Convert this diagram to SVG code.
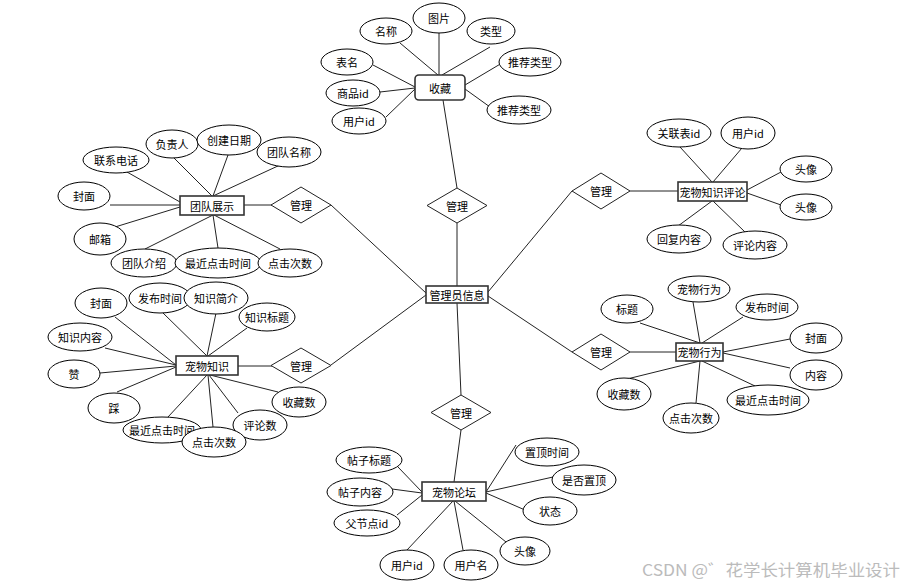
<svg xmlns="http://www.w3.org/2000/svg" width="906" height="586" viewBox="0 0 906 586">
<style>
  .e { fill: #fff; stroke: #000; stroke-width: 1; }
  .b { fill: #fff; stroke: #333; stroke-width: 1.6; }
  .d { fill: #fff; stroke: #222; stroke-width: 1; }
  .l { stroke: #222; stroke-width: 1; fill: none; }
  text { font-family: "Noto Sans CJK SC", "Liberation Sans", sans-serif; font-size: 11px; fill: #000; text-anchor: middle; dominant-baseline: central; }
  .wm { font-size: 16px; fill: #bbb; text-anchor: start; dominant-baseline: alphabetic; }
</style>
<rect width="906" height="586" fill="#fff"/>
<g id="connectors">
  <!-- 收藏 -->
  <line class="l" x1="400" y1="43" x2="438" y2="75"/>
  <line class="l" x1="439" y1="33" x2="439" y2="75"/>
  <line class="l" x1="490" y1="47" x2="442" y2="75"/>
  <line class="l" x1="502" y1="63" x2="465" y2="85"/>
  <line class="l" x1="490" y1="107" x2="465" y2="89"/>
  <line class="l" x1="373" y1="65" x2="415" y2="87"/>
  <line class="l" x1="380" y1="92" x2="415" y2="88"/>
  <line class="l" x1="386" y1="117" x2="415" y2="89"/>
  <line class="l" x1="443" y1="100" x2="457" y2="188"/>
  <!-- 管理员信息 -->
  <line class="l" x1="457" y1="223" x2="457" y2="286"/>
  <line class="l" x1="331" y1="205" x2="426" y2="293"/>
  <line class="l" x1="331" y1="365" x2="426" y2="295"/>
  <line class="l" x1="457" y1="303" x2="461" y2="395"/>
  <line class="l" x1="488" y1="292" x2="572" y2="191"/>
  <line class="l" x1="488" y1="296" x2="572" y2="352"/>
  <!-- 宠物知识评论 -->
  <line class="l" x1="630" y1="191" x2="678" y2="191"/>
  <line class="l" x1="680" y1="147" x2="712" y2="182"/>
  <line class="l" x1="742" y1="148" x2="713" y2="182"/>
  <line class="l" x1="781" y1="172" x2="747" y2="190"/>
  <line class="l" x1="781" y1="205" x2="747" y2="193"/>
  <line class="l" x1="678" y1="226" x2="712" y2="201"/>
  <line class="l" x1="745" y1="232" x2="713" y2="201"/>
  <!-- 宠物行为 -->
  <line class="l" x1="630" y1="352" x2="676" y2="352"/>
  <line class="l" x1="640" y1="323" x2="700" y2="343"/>
  <line class="l" x1="693" y1="302" x2="700" y2="343"/>
  <line class="l" x1="743" y1="317" x2="702" y2="343"/>
  <line class="l" x1="790" y1="339" x2="723" y2="352"/>
  <line class="l" x1="790" y1="368" x2="723" y2="353"/>
  <line class="l" x1="755" y1="386" x2="702" y2="361"/>
  <line class="l" x1="696" y1="403" x2="700" y2="361"/>
  <line class="l" x1="627" y1="379" x2="700" y2="361"/>
  <!-- 宠物论坛 -->
  <line class="l" x1="461" y1="430" x2="454" y2="482"/>
  <line class="l" x1="398" y1="467" x2="422" y2="492"/>
  <line class="l" x1="392" y1="489" x2="422" y2="493"/>
  <line class="l" x1="397" y1="515" x2="422" y2="495"/>
  <line class="l" x1="516" y1="445" x2="486" y2="492"/>
  <line class="l" x1="553" y1="477" x2="486" y2="492"/>
  <line class="l" x1="525" y1="510" x2="486" y2="493"/>
  <line class="l" x1="506" y1="542" x2="455" y2="501"/>
  <line class="l" x1="463" y1="550" x2="454" y2="501"/>
  <line class="l" x1="407" y1="550" x2="453" y2="501"/>
  <!-- 团队展示 -->
  <line class="l" x1="244" y1="205" x2="272" y2="205"/>
  <line class="l" x1="173" y1="157" x2="212" y2="196"/>
  <line class="l" x1="228" y1="155" x2="213" y2="196"/>
  <line class="l" x1="280" y1="165" x2="213" y2="196"/>
  <line class="l" x1="127" y1="172" x2="180" y2="202"/>
  <line class="l" x1="110" y1="205" x2="180" y2="205"/>
  <line class="l" x1="115" y1="227" x2="180" y2="207"/>
  <line class="l" x1="145" y1="249" x2="213" y2="215"/>
  <line class="l" x1="218" y1="248" x2="213" y2="215"/>
  <line class="l" x1="280" y1="249" x2="214" y2="215"/>
  <!-- 宠物知识 -->
  <line class="l" x1="238" y1="366" x2="272" y2="366"/>
  <line class="l" x1="115" y1="317" x2="176" y2="365"/>
  <line class="l" x1="163" y1="313" x2="207" y2="356"/>
  <line class="l" x1="216" y1="313" x2="207" y2="356"/>
  <line class="l" x1="247" y1="328" x2="208" y2="356"/>
  <line class="l" x1="105" y1="348" x2="176" y2="365"/>
  <line class="l" x1="100" y1="373" x2="176" y2="366"/>
  <line class="l" x1="117" y1="392" x2="176" y2="367"/>
  <line class="l" x1="168" y1="417" x2="207" y2="375"/>
  <line class="l" x1="213" y1="427" x2="208" y2="375"/>
  <line class="l" x1="238" y1="413" x2="209" y2="375"/>
  <line class="l" x1="278" y1="392" x2="210" y2="375"/>
</g>

<!-- 收藏 -->
<g id="shoucang"><rect class="b" x="415" y="75" width="50" height="25" rx="4"/><text x="440" y="87.5">收藏</text></g>
<g id="sc-mingcheng"><ellipse class="e" cx="386" cy="31" rx="26" ry="13"/><text x="386" y="31">名称</text></g>
<g id="sc-tupian"><ellipse class="e" cx="439" cy="18" rx="26" ry="15"/><text x="439" y="18">图片</text></g>
<g id="sc-leixing"><ellipse class="e" cx="491" cy="31" rx="24" ry="13"/><text x="491" y="31">类型</text></g>
<g id="sc-tuijian1"><ellipse class="e" cx="530" cy="62" rx="31" ry="14"/><text x="530" y="62">推荐类型</text></g>
<g id="sc-tuijian2"><ellipse class="e" cx="519" cy="110" rx="32" ry="14"/><text x="519" y="110">推荐类型</text></g>
<g id="sc-biaoming"><ellipse class="e" cx="347" cy="62" rx="26" ry="13"/><text x="347" y="62">表名</text></g>
<g id="sc-shangpinid"><ellipse class="e" cx="353" cy="93" rx="27" ry="13"/><text x="353" y="93">商品id</text></g>
<g id="sc-yonghuid"><ellipse class="e" cx="359" cy="121" rx="27" ry="13"/><text x="359" y="121">用户id</text></g>

<!-- 管理 diamonds -->
<g id="guanli-top"><polygon class="d" points="457,188 487,205.5 457,223 427,205.5"/><text x="457" y="205.5">管理</text></g>
<g id="guanli-team"><polygon class="d" points="301,187 331,205 301,223 271,205"/><text x="301" y="205">管理</text></g>
<g id="guanli-know"><polygon class="d" points="301,348 331,365.5 301,383 271,365.5"/><text x="301" y="365.5">管理</text></g>
<g id="guanli-bottom"><polygon class="d" points="461,395 491,412.5 461,430 431,412.5"/><text x="461" y="412.5">管理</text></g>
<g id="guanli-comment"><polygon class="d" points="601,173 630,191 601,209 572,191"/><text x="601" y="191">管理</text></g>
<g id="guanli-behav"><polygon class="d" points="601,334 630,352 601,370 572,352"/><text x="601" y="352">管理</text></g>

<!-- 管理员信息 -->
<g id="admin"><rect class="b" x="426" y="286" width="62" height="17"/><text x="457" y="294.5">管理员信息</text></g>

<!-- 宠物知识评论 -->
<g id="comment"><rect class="b" x="678" y="182" width="69" height="19"/><text x="712.5" y="191.5">宠物知识评论</text></g>
<g id="cm-guanlianid"><ellipse class="e" cx="679" cy="133" rx="32" ry="14"/><text x="679" y="133">关联表id</text></g>
<g id="cm-yonghuid"><ellipse class="e" cx="748" cy="133" rx="27" ry="16"/><text x="748" y="133">用户id</text></g>
<g id="cm-touxiang1"><ellipse class="e" cx="806" cy="169" rx="26" ry="13"/><text x="806" y="169">头像</text></g>
<g id="cm-touxiang2"><ellipse class="e" cx="806" cy="207" rx="26" ry="13"/><text x="806" y="207">头像</text></g>
<g id="cm-huifu"><ellipse class="e" cx="679" cy="239" rx="32" ry="14"/><text x="679" y="239">回复内容</text></g>
<g id="cm-pinglun"><ellipse class="e" cx="755" cy="245" rx="32" ry="14"/><text x="755" y="245">评论内容</text></g>

<!-- 宠物行为 -->
<g id="behavior"><rect class="b" x="676" y="343" width="47" height="18"/><text x="699.5" y="352">宠物行为</text></g>
<g id="bh-biaoti"><ellipse class="e" cx="627" cy="309" rx="26" ry="14"/><text x="627" y="309">标题</text></g>
<g id="bh-xingwei"><ellipse class="e" cx="699" cy="289" rx="31" ry="13"/><text x="699" y="289">宠物行为</text></g>
<g id="bh-fabu"><ellipse class="e" cx="767" cy="307" rx="31" ry="13"/><text x="767" y="307">发布时间</text></g>
<g id="bh-fengmian"><ellipse class="e" cx="816" cy="338" rx="26" ry="15"/><text x="816" y="338">封面</text></g>
<g id="bh-neirong"><ellipse class="e" cx="816" cy="375" rx="26" ry="15"/><text x="816" y="375">内容</text></g>
<g id="bh-zuijin"><ellipse class="e" cx="768" cy="400" rx="41" ry="15"/><text x="768" y="400">最近点击时间</text></g>
<g id="bh-dianji"><ellipse class="e" cx="691" cy="418" rx="28" ry="15"/><text x="691" y="418">点击次数</text></g>
<g id="bh-shoucang"><ellipse class="e" cx="624" cy="394" rx="27" ry="16"/><text x="624" y="394">收藏数</text></g>

<!-- 宠物论坛 -->
<g id="forum"><rect class="b" x="422" y="482" width="64" height="19"/><text x="454" y="491.5">宠物论坛</text></g>
<g id="fo-biaoti"><ellipse class="e" cx="369" cy="460" rx="33" ry="13"/><text x="369" y="460">帖子标题</text></g>
<g id="fo-neirong"><ellipse class="e" cx="360" cy="492" rx="33" ry="14"/><text x="360" y="492">帖子内容</text></g>
<g id="fo-fujiedian"><ellipse class="e" cx="367" cy="523" rx="33" ry="13"/><text x="367" y="523">父节点id</text></g>
<g id="fo-zhiding"><ellipse class="e" cx="547" cy="452" rx="32" ry="14"/><text x="547" y="452">置顶时间</text></g>
<g id="fo-shifou"><ellipse class="e" cx="584" cy="480" rx="32" ry="15"/><text x="584" y="480">是否置顶</text></g>
<g id="fo-zhuangtai"><ellipse class="e" cx="550" cy="511" rx="27" ry="14"/><text x="550" y="511">状态</text></g>
<g id="fo-touxiang"><ellipse class="e" cx="525" cy="551" rx="25" ry="14"/><text x="525" y="551">头像</text></g>
<g id="fo-yonghuming"><ellipse class="e" cx="471" cy="565" rx="27" ry="15"/><text x="471" y="565">用户名</text></g>
<g id="fo-yonghuid"><ellipse class="e" cx="407" cy="565" rx="27" ry="15"/><text x="407" y="565">用户id</text></g>

<!-- 团队展示 -->
<g id="team"><rect class="b" x="180" y="196" width="64" height="19"/><text x="212" y="205.5">团队展示</text></g>
<g id="tm-fuzeren"><ellipse class="e" cx="172" cy="144" rx="26" ry="14"/><text x="172" y="144">负责人</text></g>
<g id="tm-chuangjian"><ellipse class="e" cx="229" cy="140" rx="32" ry="15"/><text x="229" y="140">创建日期</text></g>
<g id="tm-mingcheng"><ellipse class="e" cx="289" cy="152" rx="32" ry="15"/><text x="289" y="152">团队名称</text></g>
<g id="tm-dianhua"><ellipse class="e" cx="116" cy="160" rx="33" ry="13"/><text x="116" y="160">联系电话</text></g>
<g id="tm-fengmian"><ellipse class="e" cx="84" cy="196" rx="26" ry="14"/><text x="84" y="196">封面</text></g>
<g id="tm-youxiang"><ellipse class="e" cx="100" cy="239" rx="26" ry="16"/><text x="100" y="239">邮箱</text></g>
<g id="tm-jieshao"><ellipse class="e" cx="144" cy="263" rx="33" ry="14"/><text x="144" y="263">团队介绍</text></g>
<g id="tm-zuijin"><ellipse class="e" cx="218" cy="263" rx="43" ry="15"/><text x="218" y="263">最近点击时间</text></g>
<g id="tm-dianji"><ellipse class="e" cx="290" cy="263" rx="32" ry="14"/><text x="290" y="263">点击次数</text></g>

<!-- 宠物知识 -->
<g id="knowledge"><rect class="b" x="176" y="356" width="62" height="19"/><text x="207" y="365.5">宠物知识</text></g>
<g id="kn-fengmian"><ellipse class="e" cx="101" cy="303" rx="26" ry="15"/><text x="101" y="303">封面</text></g>
<g id="kn-fabu"><ellipse class="e" cx="160" cy="298" rx="31" ry="15"/><text x="160" y="298">发布时间</text></g>
<g id="kn-jianjie"><ellipse class="e" cx="216" cy="298" rx="32" ry="16"/><text x="216" y="298">知识简介</text></g>
<g id="kn-biaoti"><ellipse class="e" cx="267" cy="317" rx="28" ry="14"/><text x="267" y="317">知识标题</text></g>
<g id="kn-neirong"><ellipse class="e" cx="80" cy="337" rx="32" ry="14"/><text x="80" y="337">知识内容</text></g>
<g id="kn-zan"><ellipse class="e" cx="74" cy="374" rx="26" ry="14"/><text x="74" y="374">赞</text></g>
<g id="kn-cai"><ellipse class="e" cx="114" cy="408" rx="26" ry="15"/><text x="114" y="408">踩</text></g>
<g id="kn-zuijin"><ellipse class="e" cx="162" cy="430" rx="39" ry="13"/><text x="162" y="430">最近点击时间</text></g>
<g id="kn-pinglun"><ellipse class="e" cx="260" cy="425" rx="27" ry="15"/><text x="260" y="425">评论数</text></g>
<g id="kn-dianji"><ellipse class="e" cx="214" cy="442" rx="32" ry="15"/><text x="214" y="442">点击次数</text></g>
<g id="kn-shoucang"><ellipse class="e" cx="299" cy="402" rx="27" ry="15"/><text x="299" y="402">收藏数</text></g>

<text class="wm" x="642" y="576" textLength="258" lengthAdjust="spacingAndGlyphs">CSDN @゛花学长计算机毕业设计</text>
</svg>
